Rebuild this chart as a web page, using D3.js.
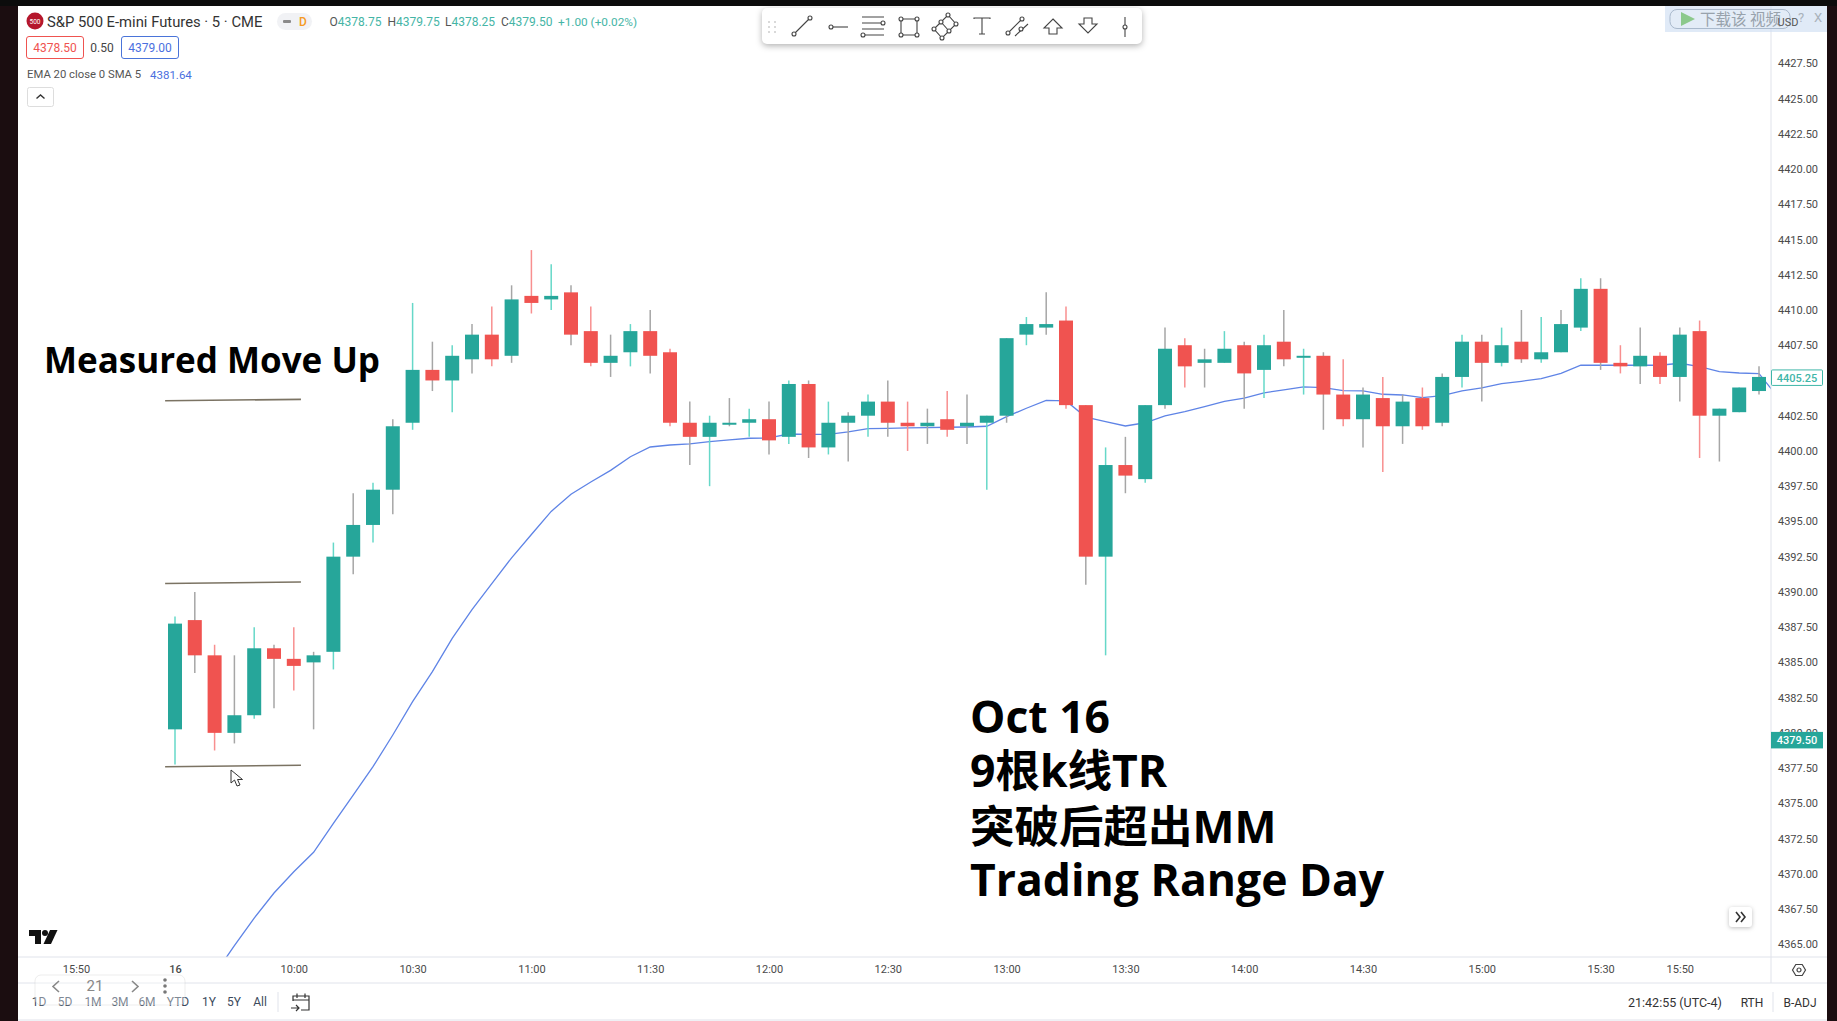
<!DOCTYPE html>
<html>
<head>
<meta charset="utf-8">
<script src="https://cdn.jsdelivr.net/npm/d3@7/dist/d3.min.js"></script>
<style>
  html, body { margin: 0; padding: 0; background: #fff; overflow: hidden; }
  svg { display: block; font-family: Roboto, "Noto Sans CJK SC", sans-serif; }
</style>
</head>
<body>
<svg id="chart" width="1837" height="1021"></svg>
<script>
// Bars are 5 minute candles, index 0 is the 9:30 open of Oct 16
const barOpen = [
  4380.25,4388,4385.5,4380,4381.25,4386,4385.25,4385,4385.75,4392.5,
  4394.75,4397.25,4402,4405.75,4405,4406.5,4408.25,4406.75,4411,4410.75,
  4411.25,4408.5,4406.25,4407,4408.5,4407,4402,4401,4402,4402,
  4402.25,4401,4404.75,4400.25,4402,4402.5,4403.5,4402,4401.75,4402.25,
  4401.75,4402,4402.5,4408.25,4408.75,4409.25,4403.25,4392.5,4399,4398,
  4403.25,4407.5,4406.25,4406.25,4407.5,4405.75,4407.75,4406.75,4406.75,4404,
  4402.25,4403.75,4401.75,4403.75,4402,4405.25,4407.75,4406.25,4407.75,4406.5,
  4407,4408.75,4411.5,4406.25,4406,4406.75,4405.25,4408.5,4402.5,4402.75,
  4404.25
];
const barHigh = [
  4388.25,4390,4386.25,4385.5,4387.5,4386.25,4387.5,4385.75,4393.5,4397,
  4397.75,4402.25,4410.5,4407.75,4407.5,4409,4410.25,4411.75,4414.25,4413.25,
  4411.75,4410.25,4408.25,4409,4410,4407.25,4403.5,4402.5,4403.75,4403,
  4403.5,4405,4405,4403.5,4402.75,4404,4405,4403.5,4403,4404.25,
  4404,4402.5,4408,4409.5,4411.25,4410.25,4403.25,4400.25,4401,4403.25,
  4408.75,4408,4407.25,4408.5,4407.75,4408.25,4410,4407.25,4407,4406.5,
  4404.5,4405.25,4404,4404.5,4405.5,4408.25,4408.25,4408.75,4410,4409.5,
  4410,4412.25,4412.25,4407.5,4408.75,4407,4408.75,4409.25,4403,4404.5,
  4406
];
const barLow = [
  4377.75,4384.25,4378.75,4379.25,4381,4381.75,4383,4380.25,4384.5,4391.25,
  4393.5,4395.5,4401.5,4404.25,4402.75,4405.5,4406,4406.25,4409.75,4410,
  4407.5,4406,4405.25,4406,4405.5,4401.75,4399,4397.5,4401.75,4401,
  4399.75,4400.5,4399.5,4399.75,4399.25,4401,4401,4400,4400.5,4401,
  4400.5,4397.25,4402,4407.5,4408.25,4403,4390.5,4385.5,4397,4397.75,
  4403,4404.5,4404.5,4406.25,4403,4403.75,4406,4404,4401.5,4401.75,
  4400.25,4398.5,4400.5,4401.5,4401.75,4404.5,4403.5,4406,4406.25,4406.25,
  4407,4408.5,4405.75,4405.5,4404.75,4404.75,4403.5,4399.5,4399.25,4402.75,
  4404
];
const barClose = [
  4387.75,4385.5,4380,4381.25,4386,4385.25,4384.75,4385.5,4392.5,4394.75,
  4397.25,4401.75,4405.75,4405,4406.75,4408.25,4406.5,4410.75,4410.5,4411,
  4408.25,4406.25,4406.75,4408.5,4406.75,4402,4401,4402,4402,4402.25,
  4400.75,4404.75,4400.25,4402,4402.5,4403.5,4402,4401.75,4402,4401.5,
  4402,4402.5,4408,4409,4409,4403.25,4392.5,4399,4398.25,4403.25,
  4407.25,4406,4406.5,4407.25,4405.5,4407.5,4406.5,4406.75,4404,4402.25,
  4404,4401.75,4403.5,4401.75,4405.25,4407.75,4406.25,4407.5,4406.5,4407,
  4409,4411.5,4406.25,4406,4406.75,4405.25,4408.25,4402.5,4403,4404.5,
  4405.25
];
// the video turned these wicks grey, the others keep a pale candle colour
const greyWickBars = [1,3,5,7,9,11,13,15,17,20,22,24,26,28,30,32,34,36,38,40,42,44,46,48,
  50,52,54,56,58,60,62,64,66,68,70,72,74,76,78,80];

// EMA 20, starts at bar 2 (it comes up from below the pane)
const emaStartBar = 2;
const emaValues = [
  4362.88,4364.9,4366.86,4368.64,4370.15,4371.53,4373.58,4375.59,4377.6,4379.85,
  4382.21,4384.34,4386.7,4388.74,4390.59,4392.42,4394.07,4395.71,4396.93,4397.8,
  4398.62,4399.59,4400.28,4400.42,4400.5,4400.66,4400.78,4400.9,4400.92,4401.2,
  4401.18,4401.18,4401.35,4401.58,4401.6,4401.63,4401.65,4401.68,4401.7,4401.75,
  4402.43,4403.03,4403.59,4403.55,4402.4,4402.08,4401.77,4402,4402.48,4402.79,
  4403.15,4403.52,4403.74,4404.12,4404.33,4404.54,4404.49,4404.28,4404.26,4404.02,
  4403.97,4403.78,4403.93,4404.26,4404.47,4404.78,4404.94,4405.13,4405.51,4406.08,
  4406.08,4406.08,4406.08,4406.08,4406.22,4405.98,4405.63,4405.53,4405.49,4403.74
];

const priceTicks = [4365,4367.5,4370,4372.5,4375,4377.5,4380,4382.5,4385,4387.5,4390,4392.5,4395,
  4397.5,4400,4402.5,4405,4407.5,4410,4412.5,4415,4417.5,4420,4422.5,4425,4427.5];
const timeTickBars = [-5,0,6,12,18,24,30,36,42,48,54,60,66,72,76];
const timeTickLabels = ["15:50","16","10:00","10:30","11:00","11:30","12:00","12:30","13:00","13:30","14:00","14:30","15:00","15:30","15:50"];

// hand drawn measured move lines: [bar from, bar to, price from, price to]
const moveLines = [
  [-0.5,6.36,4377.6,4377.7],
  [-0.5,6.36,4390.6,4390.7],
  [-0.5,6.36,4403.56,4403.66]
];
const noteLines = ["Oct 16","9根k线TR","突破后超出MM","Trading Range Day"];
const rangeButtons = ["1D","5D","1M","3M","6M","YTD","1Y","5Y","All"];
const lastPrice = 4379.50;
const linePrice = 4405.25;

const green = "#26a69a", red = "#f05350", paleGreen = "#66d8c8", paleRed = "#f88f8f", wickGrey = "#a6a6a6";
const textGrey = "#4a4a4a", emaBlue = "#5f84e6";

const svg = d3.select("#chart");
const W = 1837, H = 1021;
const plot = { left: 18, top: 6, right: 1771, bottom: 957 };

const x = d3.scaleLinear().domain([0, 80]).range([175, 1759]);
const y = d3.scaleLinear().domain([4427.5, 4365]).range([63.3, 944.3]);

svg.append("rect").attr("width", W).attr("height", H).attr("fill", "#fff");

svg.append("clipPath").attr("id", "pane")
  .append("rect")
  .attr("x", plot.left).attr("y", plot.top)
  .attr("width", plot.right - plot.left).attr("height", plot.bottom - plot.top);

function label(sel, px, py, str, opts = {}) {
  return sel.append("text")
    .attr("x", px).attr("y", py)
    .attr("dy", opts.dy === undefined ? "0.35em" : opts.dy)
    .attr("text-anchor", opts.anchor || "start")
    .attr("font-size", opts.size || 12)
    .attr("font-weight", opts.weight || 400)
    .attr("fill", opts.color || textGrey)
    .text(str);
}

// ---- candles and EMA
const pane = svg.append("g").attr("clip-path", "url(#pane)");

const emaLine = d3.line()
  .x((d, i) => x(i + emaStartBar))
  .y(d => y(d));

pane.append("path")
  .datum(emaValues)
  .attr("d", emaLine)
  .attr("fill", "none")
  .attr("stroke", emaBlue)
  .attr("stroke-width", 1.3);

const bars = barOpen.map((o, i) => ({ i, o, h: barHigh[i], l: barLow[i], c: barClose[i] }));
const isUp = d => d.c >= d.o;

pane.selectAll("line.wick")
  .data(bars)
  .enter()
  .append("line")
  .attr("class", "wick")
  .attr("x1", d => x(d.i))
  .attr("x2", d => x(d.i))
  .attr("y1", d => y(d.h))
  .attr("y2", d => y(d.l))
  .attr("stroke-width", 1.5)
  .attr("stroke", d => greyWickBars.includes(d.i) ? wickGrey : (isUp(d) ? paleGreen : paleRed));

pane.selectAll("rect.body")
  .data(bars)
  .enter()
  .append("rect")
  .attr("class", "body")
  .attr("x", d => x(d.i) - 7)
  .attr("width", 14)
  .attr("y", d => y(Math.max(d.o, d.c)))
  .attr("height", d => Math.max(2, y(Math.min(d.o, d.c)) - y(Math.max(d.o, d.c))))
  .attr("fill", d => isUp(d) ? green : red);

// measured move lines
svg.selectAll("line.move")
  .data(moveLines)
  .enter()
  .append("line")
  .attr("class", "move")
  .attr("x1", d => x(d[0]))
  .attr("x2", d => x(d[1]))
  .attr("y1", d => y(d[2]))
  .attr("y2", d => y(d[3]))
  .attr("stroke", "#7b7363")
  .attr("stroke-width", 1.6);

// annotation text
const noteFont = '"Open Sans", "Noto Sans CJK SC", sans-serif';
label(svg, 44, 373, "Measured Move Up", { size: 35, weight: 700, color: "#000", dy: 0 })
  .style("font-family", noteFont);
const noteY = [733, 787, 843, 896];
noteLines.forEach((t, i) => {
  label(svg, 970, noteY[i], t, { size: 44.5, weight: 700, color: "#000", dy: 0 })
    .style("font-family", noteFont);
});

// mouse pointer left in the screen recording
svg.append("path")
  .attr("d", "M231,770 L231,783 L234.5,780 L237,786 L240,785 L237.5,779.5 L242.5,779.5 Z")
  .attr("fill", "#fff").attr("stroke", "#333").attr("stroke-width", 1);

// TV logo
const logo = svg.append("g").attr("fill", "#111");
logo.append("path").attr("d", "M29,930 H41 V944 H35 V936 H29 Z");
logo.append("circle").attr("cx", 45).attr("cy", 933).attr("r", 3);
logo.append("path").attr("d", "M50,930 H57.5 L51,944 H43.5 Z");

// ---- price axis
const axisR = d3.axisRight(y)
  .tickValues(priceTicks)
  .tickFormat(d3.format(".2f"))
  .tickSize(0)
  .tickPadding(7);
const gy = svg.append("g")
  .attr("transform", `translate(${plot.right},0)`)
  .call(axisR);
gy.select(".domain").remove();
gy.selectAll("text").attr("font-size", 11).attr("font-family", "Roboto").attr("fill", textGrey);

svg.append("line").attr("x1", plot.right).attr("x2", plot.right).attr("y1", plot.top).attr("y2", 983)
  .attr("stroke", "#e0e3eb");

// price tags
svg.append("rect").attr("x", plot.right).attr("y", y(lastPrice) - 8).attr("width", 52).attr("height", 16.5)
  .attr("fill", green);
label(svg, plot.right + 26, y(lastPrice) + 0.5, lastPrice.toFixed(2), { anchor: "middle", color: "#fff", weight: 500, size: 11 });
svg.append("rect").attr("x", plot.right + 0.5).attr("y", y(linePrice) - 7).attr("width", 51).attr("height", 15.5).attr("rx", 1)
  .attr("fill", "#fff").attr("stroke", "#3fb6a8");
label(svg, plot.right + 26, y(linePrice) + 1, linePrice.toFixed(2), { anchor: "middle", color: "#3fb6a8", weight: 500, size: 11 });

// ---- time axis
const axisB = d3.axisBottom(x)
  .tickValues(timeTickBars)
  .tickFormat((d, i) => timeTickLabels[i])
  .tickSize(0)
  .tickPadding(8);
const gx = svg.append("g")
  .attr("transform", `translate(0,${plot.bottom})`)
  .call(axisB);
gx.select(".domain").remove();
gx.selectAll("text").attr("font-size", 11).attr("font-family", "Roboto").attr("fill", textGrey);
gx.selectAll("text").filter((d, i) => timeTickLabels[i] === "16").attr("font-weight", 500);

[plot.bottom, 983, 1020].forEach(v => {
  svg.append("line").attr("x1", plot.left).attr("x2", W - 10).attr("y1", v).attr("y2", v).attr("stroke", "#e0e3eb");
});

// settings hexagon
const gear = svg.append("g").attr("transform", "translate(1799,970)").attr("fill", "none").attr("stroke", "#444").attr("stroke-width", 1.2);
gear.append("path").attr("d", "M-6.5,0 L-3.2,-5.5 H3.2 L6.5,0 L3.2,5.5 H-3.2 Z");
gear.append("circle").attr("r", 2);

// double chevron button
svg.append("rect").attr("x", 1729).attr("y", 907).attr("width", 23).attr("height", 20).attr("rx", 3)
  .attr("fill", "#fff").style("filter", "drop-shadow(0 1px 2px rgba(0,0,0,.25))");
svg.append("path").attr("d", "M1736,912 L1740,917 L1736,922 M1741,912 L1745,917 L1741,922")
  .attr("fill", "none").attr("stroke", "#333").attr("stroke-width", 1.6);

// ---- bottom bar
const rangeX = [39,65,93,120,147,178,209,234,260];
rangeButtons.forEach((t, i) => {
  label(svg, rangeX[i], 1002, t, { anchor: "middle", size: 12, color: "#3b4a5c" });
});
svg.append("line").attr("x1", 278).attr("x2", 278).attr("y1", 992).attr("y2", 1012).attr("stroke", "#e0e3eb");
svg.append("path")
  .attr("d", "M293,1001 V996 H309 V1010 H301 M293,1000 H309 M297,993.5 V998 M305,993.5 V998 M291,1008 H299 M296,1005 L299,1008 L296,1011")
  .attr("fill", "none").attr("stroke", "#333").attr("stroke-width", 1.2);

// replay overlay sitting on top of the time axis
svg.append("rect").attr("x", 35).attr("y", 975).attr("width", 150).attr("height", 30).attr("rx", 6)
  .attr("fill", "#fff").attr("fill-opacity", 0.35).attr("stroke", "#ccc").attr("stroke-opacity", 0.35);
label(svg, 95, 986, "21", { anchor: "middle", size: 15, color: "#888" });
svg.append("path").attr("d", "M59,981 L53,986.5 L59,992 M132,981 L138,986.5 L132,992")
  .attr("fill", "none").attr("stroke", "#888").attr("stroke-width", 1.6);
svg.selectAll("circle.dot").data([980, 986, 992]).enter().append("circle").attr("class", "dot")
  .attr("cx", 165).attr("cy", d => d).attr("r", 1.8).attr("fill", "#777");

label(svg, 1628, 1003, "21:42:55 (UTC-4)", { size: 12.5, color: "#333" });
label(svg, 1752, 1003, "RTH", { anchor: "middle", size: 12, color: "#333" });
svg.append("line").attr("x1", 1773).attr("x2", 1773).attr("y1", 992).attr("y2", 1012).attr("stroke", "#e0e3eb");
label(svg, 1800, 1003, "B-ADJ", { anchor: "middle", size: 12, color: "#333" });

// ---- header legend
svg.append("circle").attr("cx", 35).attr("cy", 21).attr("r", 8.5).attr("fill", "#b5172c");
label(svg, 35, 21.5, "500", { anchor: "middle", size: 6.5, color: "#fff" });
label(svg, 47, 22, "S&P 500 E-mini Futures · 5 · CME", { size: 14.8, color: "#333" });
svg.append("rect").attr("x", 277).attr("y", 13).attr("width", 35).attr("height", 17).attr("rx", 8.5).attr("fill", "#f1f2f5");
svg.append("rect").attr("x", 283).attr("y", 20).attr("width", 8).attr("height", 3).attr("rx", 1).attr("fill", "#8a8a8a");
label(svg, 303, 22, "D", { anchor: "middle", size: 12, color: "#f59a23", weight: 500 });

const ohlcTeal = "#45b5a6";
[[329.5, "O", "4378.75"], [387.5, "H", "4379.75"], [445, "L", "4378.25"], [501, "C", "4379.50"]].forEach(d => {
  const t = label(svg, d[0], 22, d[1], { size: 12, color: "#555" });
  t.append("tspan").attr("fill", ohlcTeal).text(d[2]);
});
label(svg, 558, 22, "+1.00 (+0.02%)", { size: 11.8, color: ohlcTeal });

svg.append("rect").attr("x", 26.5).attr("y", 36.5).attr("width", 57).attr("height", 22).attr("rx", 2.5)
  .attr("fill", "#fff").attr("stroke", "#ef5350");
label(svg, 55, 48, "4378.50", { anchor: "middle", color: "#ef5350" });
label(svg, 102, 47.5, "0.50", { anchor: "middle", color: "#444" });
svg.append("rect").attr("x", 121.5).attr("y", 36.5).attr("width", 57).attr("height", 22).attr("rx", 2.5)
  .attr("fill", "#fff").attr("stroke", "#4a74d9");
label(svg, 150, 48, "4379.00", { anchor: "middle", color: "#4a6fe0" });

label(svg, 27, 74.5, "EMA 20 close 0 SMA 5", { size: 11.3, color: "#555" });
label(svg, 150, 74.5, "4381.64", { size: 11.5, color: "#4a6fe0" });

svg.append("rect").attr("x", 27.5).attr("y", 87.5).attr("width", 26).attr("height", 19).attr("rx", 2)
  .attr("fill", "#fff").attr("stroke", "#ddd");
svg.append("path").attr("d", "M36.5,98.5 L40.5,95 L44.5,98.5").attr("fill", "none").attr("stroke", "#333").attr("stroke-width", 1.4);

// ---- drawing toolbar
const tools = svg.append("g").attr("fill", "none").attr("stroke", "#444").attr("stroke-width", 1.1);
tools.append("rect").attr("x", 762).attr("y", 8).attr("width", 380).attr("height", 36).attr("rx", 5)
  .attr("fill", "#fff").attr("stroke", "none").style("filter", "drop-shadow(0 2px 3px rgba(0,0,0,.3))");

const handles = [];
function tool(d, pts) {
  tools.append("path").attr("d", d);
  pts.forEach(p => handles.push(p));
}
[[769,22],[775,22],[769,27],[775,27],[769,32],[775,32]].forEach(p => {
  tools.append("circle").attr("cx", p[0]).attr("cy", p[1]).attr("r", 1).attr("fill", "#ccc").attr("stroke", "none");
});
tool("M794,34 L810,18", [[794,34],[810,18]]);
tool("M832,27 H848", [[831,27]]);
tool("M862,17 H884 M862,23 H882 M862,29 H884 M864,35 H884", [[883,23],[863,35]]);
tool("M901,19 H917 V35 H901 Z", [[901,19],[917,19],[901,35],[917,35]]);
tool("M934,29 L948,15 L956,24 L942,38 Z M941,22 L949,31", [[934,29],[948,15],[956,24],[942,38],[941,22],[949,31]]);
tool("M974,19 V18 H990 V19 M982,18 V34 M979,34 H985", []);
tool("M1008,33 L1022,19 M1015,36 L1028,24", [[1008,33],[1022,19],[1021,29]]);
tool("M1053,19 L1062,28 H1057 V34 H1049 V28 H1044 Z", []);
tool("M1084,18 H1092 V24 H1097 L1088,33 L1079,24 H1084 Z", []);
tool("M1125,17 V37", [[1125,27]]);
handles.forEach(p => {
  tools.append("circle").attr("cx", p[0]).attr("cy", p[1]).attr("r", 2).attr("fill", "#fff");
});

// ---- download overlay of the video player, top right
svg.append("rect").attr("x", 1665).attr("y", 6).attr("width", 162).attr("height", 26).attr("fill", "#cfdff2").attr("fill-opacity", 0.65);
svg.append("rect").attr("x", 1670).attr("y", 9.5).attr("width", 120).attr("height", 19).attr("rx", 7)
  .attr("fill", "#e4edf7").attr("fill-opacity", 0.7).attr("stroke", "#a9b9cc");
svg.append("path").attr("d", "M1681,12 L1695,19 L1681,26 Z").attr("fill", "#8cc98c");
label(svg, 1700, 19.5, "下载该 视频", { size: 15.5, color: "#98a2ac" }).style("font-family", "'Noto Sans CJK SC'");
label(svg, 1788, 22, "USD", { anchor: "middle", size: 11, color: "#555" });
label(svg, 1801, 17, "?", { anchor: "middle", size: 13, color: "#a9b2bb" });
label(svg, 1818, 17, "X", { anchor: "middle", size: 13, color: "#a9b2bb" });

// ---- dark frame of the video
svg.append("rect").attr("x", 0).attr("y", 0).attr("width", plot.left).attr("height", H).attr("fill", "#1b0d10");
svg.append("rect").attr("x", 1827).attr("y", 0).attr("width", W - 1827).attr("height", H).attr("fill", "#1b0d10");
svg.append("rect").attr("x", 0).attr("y", 0).attr("width", W).attr("height", plot.top).attr("fill", "#0c0c0c");
</script>
</body>
</html>
